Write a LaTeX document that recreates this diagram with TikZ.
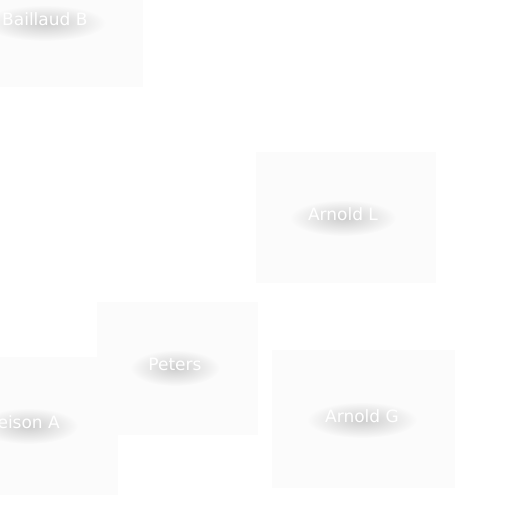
\documentclass[tikz,border=0pt]{standalone}
\usepackage{fontspec}
\setmainfont{DejaVu Sans}
\usetikzlibrary{fadings,calc}
\definecolor{boxfill}{HTML}{FBFBFB}
\pgfdeclarelayer{panels}
\pgfdeclarelayer{glow}
\pgfsetlayers{panels,glow,main}
\tikzfading[name=softblob, inner color=transparent!10, outer color=transparent!100]
\tikzset{
  panel/.style={fill=boxfill, draw=none},
  lbl/.style={text=white, font=\fontsize{17}{20}\selectfont, inner sep=2pt},
  blob/.style={fill=black, opacity=.2, path fading=softblob}
}
\newcommand\glowunder[1]{%
  \begin{pgfonlayer}{glow}
  \path let \p1=($(#1.east)-(#1.west)$) in
    [blob] ([yshift=-4pt]#1.center) ellipse [x radius={0.5*\x1+16pt}, y radius=18pt];
  \end{pgfonlayer}}
\begin{document}
\begin{tikzpicture}[x=1pt,y=-1pt]
\useasboundingbox (0,0) rectangle (512,512);
\begin{pgfonlayer}{panels}
\fill[white] (0,0) rectangle (512,512);
\path[panel] (-10,-10) rectangle (143,87);
\path[panel] (256,152) rectangle (436,283);
\path[panel] (97,302) rectangle (258,435);
\path[panel] (-10,357) rectangle (118,495);
\path[panel] (272,350) rectangle (455,488);
\end{pgfonlayer}
\node[lbl, anchor=west] (bb) at (0,19) {Baillaud B};
\node[lbl] (al) at (343,214) {Arnold L};
\node[lbl] (pe) at (175,364) {Peters};
\node[lbl, anchor=east] (ea) at (62,422) {eison A};
\node[lbl] (ag) at (362,416) {Arnold G};
\glowunder{bb}
\glowunder{al}
\glowunder{pe}
\glowunder{ea}
\glowunder{ag}
\end{tikzpicture}
\end{document}
